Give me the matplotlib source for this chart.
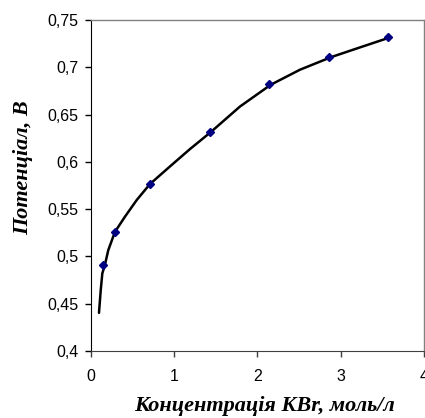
import matplotlib
matplotlib.use("Agg")
import matplotlib.pyplot as plt

# measured points: KBr concentration (mol/l) vs potential (V)
conc = [0.143, 0.286, 0.714, 1.429, 2.143, 2.857, 3.571]
potential = [0.491, 0.526, 0.577, 0.632, 0.682, 0.711, 0.732]

# the drawn trend curve
curve_x = [0.096, 0.117, 0.136, 0.168, 0.208, 0.288, 0.408, 0.549, 0.709, 0.969,
           1.189, 1.438, 1.790, 2.159, 2.51, 2.887, 3.231, 3.592]
curve_y = [0.4403, 0.4643, 0.482, 0.4915, 0.5067, 0.526, 0.542, 0.5596, 0.5766, 0.5967,
           0.6135, 0.6314, 0.6585, 0.6815, 0.6974, 0.7108, 0.721, 0.7316]

xticks = [0, 1, 2, 3, 4]
yticks = [0.4, 0.45, 0.5, 0.55, 0.6, 0.65, 0.7, 0.75]
ytick_labels = ['0,4', '0,45', '0,5', '0,55', '0,6', '0,65', '0,7', '0,75']

fig = plt.figure(figsize=(4.25, 4.18), dpi=100)
ax = fig.add_axes([0.2141, 0.1603, 0.7835, 0.7919])

ax.plot(curve_x, curve_y, color='black', lw=1.8, zorder=2,
        solid_joinstyle='round', solid_capstyle='round')
ax.plot(conc, potential, ls='none', marker='D', ms=4, color='#000080', zorder=3)

ax.set_xlim(0, 4)
ax.set_ylim(0.4, 0.75)
ax.set_xticks(xticks)
ax.set_xticklabels([str(t) for t in xticks])
ax.set_yticks(yticks)
ax.set_yticklabels(ytick_labels)

for s in ['top', 'right']:
    ax.spines[s].set_color('#808080')
    ax.spines[s].set_linewidth(1.0)
ax.spines['bottom'].set_color('#404040')
ax.spines['left'].set_color('black')

ax.tick_params(axis='both', labelsize=11.5, colors='black', length=4, width=1,
               labelfontfamily='Liberation Sans')
ax.tick_params(axis='x', pad=9, color='#404040')
ax.tick_params(axis='y', pad=5)

ax.set_xlabel('Концентрація KBr, моль/л', family='Liberation Serif',
              fontsize=16, fontweight='bold', style='italic', va='center')
ax.set_ylabel('Потенціал, В', family='Liberation Serif',
              fontsize=16, fontweight='bold', style='italic', va='center')
ax.xaxis.set_label_coords(0.52, -0.165)
ax.yaxis.set_label_coords(-0.205, 0.553)

fig.savefig('out.png', dpi=100)
